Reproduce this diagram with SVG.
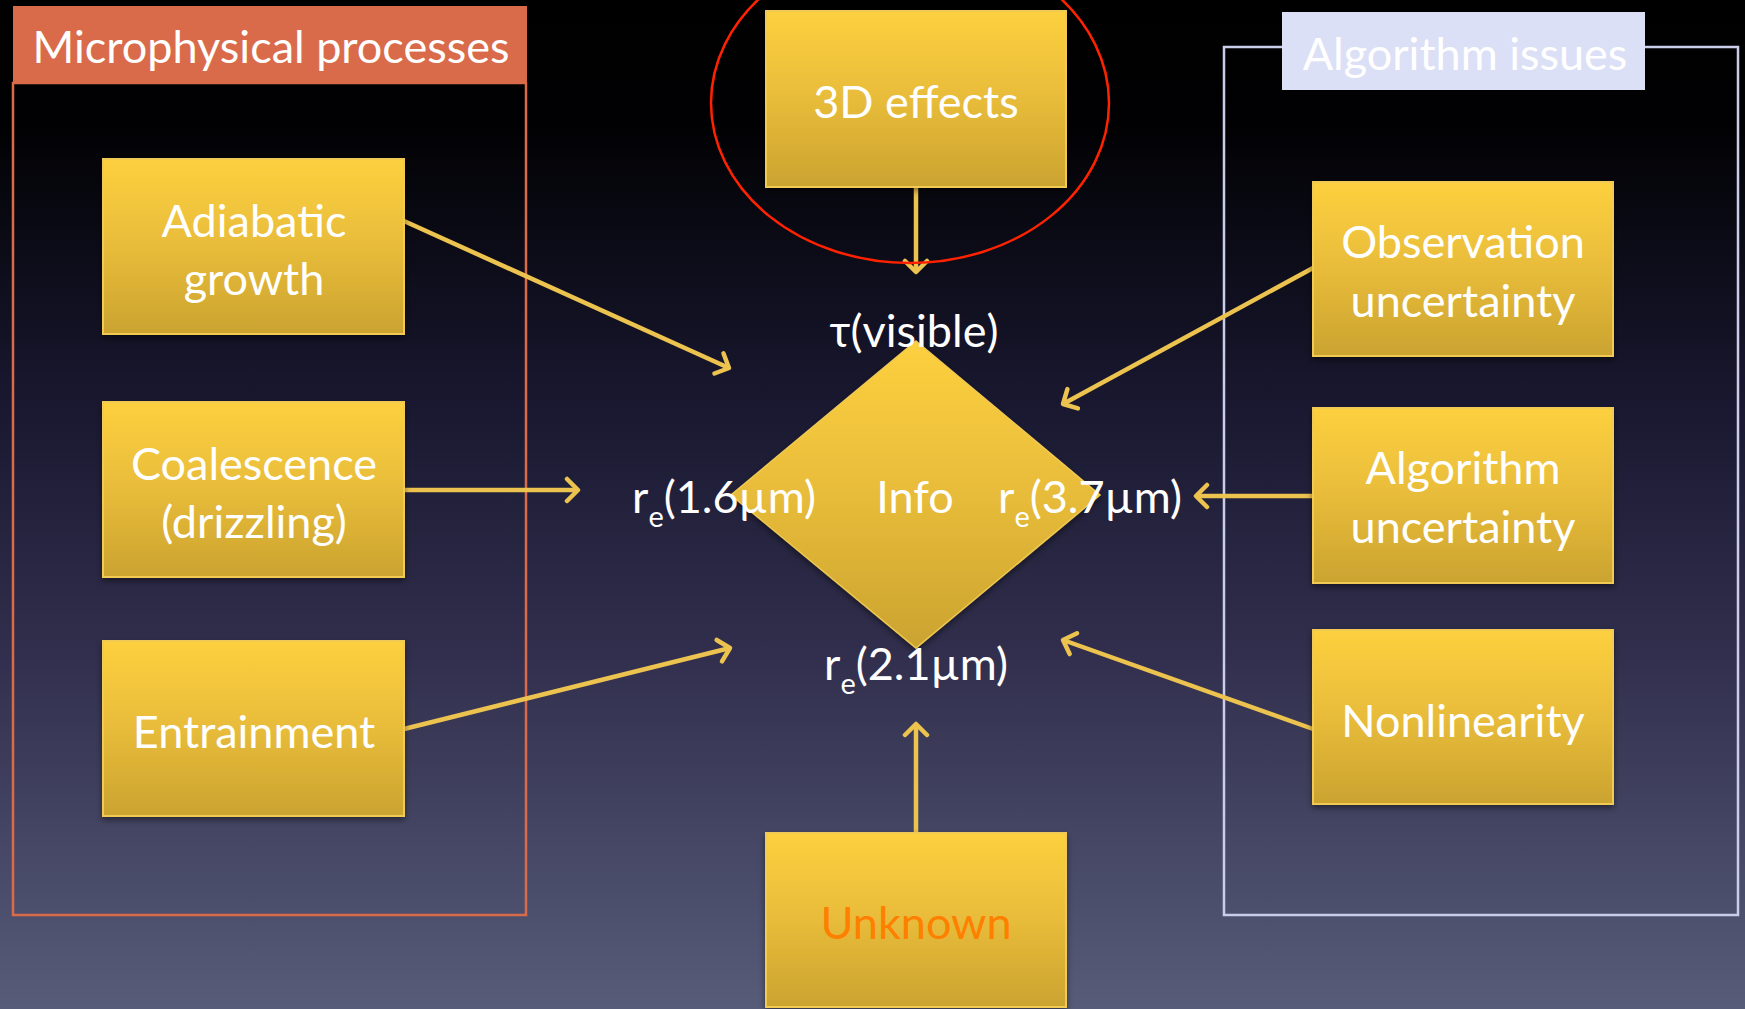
<svg xmlns="http://www.w3.org/2000/svg" width="1745" height="1009" viewBox="0 0 1745 1009">
<defs>
<linearGradient id="bg" x1="0" y1="0" x2="0" y2="1">
<stop offset="0" stop-color="#000000"/>
<stop offset="0.12" stop-color="#010103"/>
<stop offset="0.4" stop-color="#191830"/>
<stop offset="0.65" stop-color="#312f4d"/>
<stop offset="1" stop-color="#575c79"/>
</linearGradient>
<linearGradient id="gold" x1="0" y1="0" x2="0" y2="1">
<stop offset="0" stop-color="#FDD03F"/>
<stop offset="0.5" stop-color="#E8BC3A"/>
<stop offset="1" stop-color="#CBA32F"/>
</linearGradient>
<filter id="sh" x="-10%" y="-10%" width="120%" height="130%">
<feDropShadow dx="0" dy="3" stdDeviation="3" flood-color="#000" flood-opacity="0.45"/>
</filter>
<marker id="arr" markerUnits="userSpaceOnUse" viewBox="-16 -14 20 28" markerWidth="20" markerHeight="28" refX="0" refY="0" orient="auto">
<path d="M-11,-11 L0,0 L-11,11" fill="none" stroke="#EDC34F" stroke-width="4.5" stroke-linecap="round" stroke-linejoin="round"/>
</marker>
<style>
.box{fill:url(#gold);stroke:#F1CA52;stroke-width:2;filter:url(#sh)}
.t{font-family:Lato,"Open Sans",sans-serif;font-size:45px;fill:#FFFFFF;text-anchor:middle}
.l{font-family:Lato,"Open Sans",sans-serif;font-size:45px;fill:#FFFFFF}
.sub{font-size:29px}
.hd{font-family:Lato,"Open Sans",sans-serif;font-size:45px;fill:#FFFFFF;text-anchor:middle}
.c{stroke:#EDC34F;stroke-width:4.5;fill:none;marker-end:url(#arr)}
</style>
</defs>
<rect x="0" y="0" width="1745" height="1009" fill="url(#bg)"/>

<g id="microphysical-group">
<rect x="13" y="83" width="513" height="832" fill="none" stroke="#D96A4A" stroke-width="2.5"/>
<rect x="13" y="6" width="514" height="77" fill="#D96B4B"/>
<text class="hd" x="271" y="63">Microphysical processes</text>
</g>

<g id="algorithm-group">
<rect x="1224" y="47" width="514" height="868" fill="none" stroke="#C9CDEA" stroke-width="2.5"/>
<rect x="1282" y="12" width="363" height="78" fill="#DCE0F6"/>
<text class="hd" x="1465" y="70">Algorithm issues</text>
</g>

<g id="connectors">
<line class="c" x1="404" y1="221" x2="729" y2="368"/>
<line class="c" x1="404" y1="490" x2="578" y2="490"/>
<line class="c" x1="404" y1="729" x2="730" y2="648"/>
<line class="c" x1="1313" y1="268" x2="1063" y2="404"/>
<line class="c" x1="1313" y1="496" x2="1196" y2="496"/>
<line class="c" x1="1313" y1="729" x2="1063" y2="640"/>
<line class="c" x1="916" y1="187" x2="916" y2="272"/>
<line class="c" x1="916" y1="833" x2="916" y2="724"/>
</g>

<g id="adiabatic">
<rect class="box" x="103" y="159" width="301" height="175"/>
<text class="t" x="254" y="237">Adiabatic</text>
<text class="t" x="254" y="295">growth</text>
</g>
<g id="coalescence">
<rect class="box" x="103" y="402" width="301" height="175"/>
<text class="t" x="254" y="480">Coalescence</text>
<text class="t" x="254" y="538">(drizzling)</text>
</g>
<g id="entrainment">
<rect class="box" x="103" y="641" width="301" height="175"/>
<text class="t" x="254" y="748">Entrainment</text>
</g>

<g id="effects3d">
<rect class="box" x="766" y="11" width="300" height="176"/>
<text class="t" x="916" y="118">3D effects</text>
</g>
<ellipse id="highlight" cx="910" cy="103" rx="199" ry="160" fill="none" stroke="#FF2200" stroke-width="2.5"/>

<g id="observation">
<rect class="box" x="1313" y="182" width="300" height="174"/>
<text class="t" x="1463" y="258">Observation</text>
<text class="t" x="1463" y="317">uncertainty</text>
</g>
<g id="algorithm-uncertainty">
<rect class="box" x="1313" y="408" width="300" height="175"/>
<text class="t" x="1463" y="484">Algorithm</text>
<text class="t" x="1463" y="543">uncertainty</text>
</g>
<g id="nonlinearity">
<rect class="box" x="1313" y="630" width="300" height="174"/>
<text class="t" x="1463" y="737">Nonlinearity</text>
</g>

<g id="unknown">
<rect class="box" x="766" y="833" width="300" height="174"/>
<text class="t" x="916" y="939" style="fill:#FF7F00">Unknown</text>
</g>

<g id="info">
<polygon points="916,341 1100,495 916,648 731,495" fill="url(#gold)" stroke="#F1CA52" stroke-width="1.5" filter="url(#sh)"/>
<text class="t" x="915" y="513">Info</text>
<text class="t" x="914" y="347">τ(visible)</text>
<text class="l" x="632" y="513">r<tspan class="sub" dy="14">e</tspan><tspan dy="-14">(1.6µm)</tspan></text>
<text class="l" x="998" y="513">r<tspan class="sub" dy="14">e</tspan><tspan dy="-14">(3.7µm)</tspan></text>
<text class="l" x="824" y="680">r<tspan class="sub" dy="14">e</tspan><tspan dy="-14">(2.1µm)</tspan></text>
</g>
</svg>
